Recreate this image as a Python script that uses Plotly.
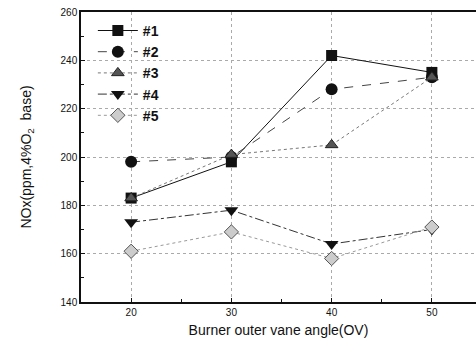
import plotly.graph_objects as go

angles = [20, 30, 40, 50]
s1 = [183, 198, 242, 235]
s2 = [198, 200, 228, 233]
s3 = [183, 201, 205, 233]
s4 = [173, 178, 164, 170]
s5 = [161, 169, 158, 171]
names = ["<b>#1</b>", "<b>#2</b>", "<b>#3</b>", "<b>#4</b>", "<b>#5</b>"]

styles = [
    dict(line=dict(color="#111", width=1, dash="solid"), marker=dict(symbol="square", size=11, color="#111")),
    dict(line=dict(color="#444", width=1, dash="dash"), marker=dict(symbol="circle", size=12, color="#111")),
    dict(line=dict(color="#777", width=1, dash="dot"), marker=dict(symbol="triangle-up", size=11, color="#555", line=dict(color="#222", width=1))),
    dict(line=dict(color="#333", width=1, dash="dashdot"), marker=dict(symbol="triangle-down", size=12, color="#111")),
    dict(line=dict(color="#999", width=1, dash="dot"), marker=dict(symbol="diamond", size=11, color="#ccc", line=dict(color="#555", width=1))),
]

fig = go.Figure()
for name, ys, st in zip(names, [s1, s2, s3, s4, s5], styles):
    fig.add_trace(go.Scatter(x=angles, y=ys, name=name, mode="lines+markers", **st))

fig.update_layout(
    width=476, height=347,
    margin=dict(l=81, r=0, t=12, b=45),
    paper_bgcolor="white", plot_bgcolor="white",
    font=dict(family="Liberation Sans, Arial", color="#111", size=10),
    showlegend=True,
    legend=dict(x=0.03, y=0.99, xanchor="left", yanchor="top",
                font=dict(size=14, family="Liberation Sans, Arial"),
                bgcolor="rgba(0,0,0,0)", tracegroupgap=0, itemwidth=40),
    xaxis=dict(
        range=[15, 54.4], dtick=10, tick0=20,
        showline=True, linecolor="#111", linewidth=1.5, mirror=True,
        ticks="inside", ticklen=4, tickcolor="#111",
        minor=dict(ticks="inside", dtick=5, ticklen=3, tickcolor="#111", showgrid=False),
        showgrid=True, gridcolor="#aaa", griddash="dot", gridwidth=1,
        zeroline=False,
        title=dict(text="Burner outer vane angle(OV)", font=dict(size=14), standoff=8),
        tickfont=dict(size=10),
    ),
    yaxis=dict(
        range=[140, 260], dtick=20,
        showline=True, linecolor="#111", linewidth=1.5, mirror=False,
        ticks="inside", ticklen=4, tickcolor="#111",
        minor=dict(ticks="inside", dtick=10, ticklen=3, tickcolor="#111", showgrid=False),
        showgrid=True, gridcolor="#aaa", griddash="dot", gridwidth=1,
        zeroline=False,
        title=dict(text="NOx(ppm,4%O<sub>2</sub>  base)", font=dict(size=14), standoff=26),
        tickfont=dict(size=10),
    ),
)

fig.write_html("out.html")
